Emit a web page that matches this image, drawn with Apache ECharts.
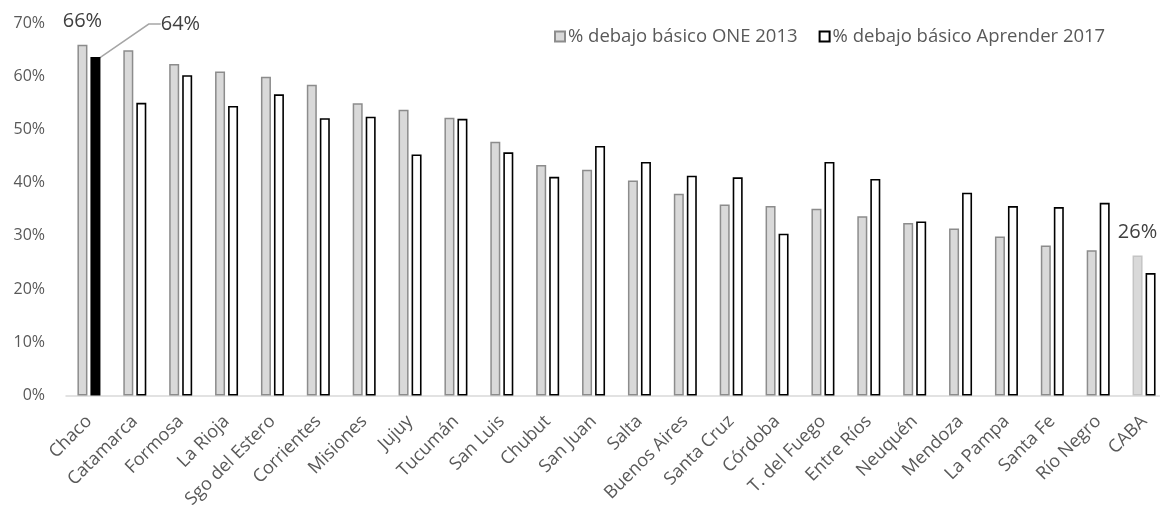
<!DOCTYPE html>
<html>
<head>
<meta charset="utf-8">
<script src="https://cdn.jsdelivr.net/npm/echarts@6/dist/echarts.min.js"></script>
<style>
  html, body { margin: 0; padding: 0; background: #fff; }
  #chart { width: 1160px; height: 506px; }
</style>
</head>
<body>
<div id="chart"></div>
<script>
// Provinces, ordered by 2013 share below basic level
const provinces = ['Chaco', 'Catamarca', 'Formosa', 'La Rioja', 'Sgo del Estero', 'Corrientes',
  'Misiones', 'Jujuy', 'Tucumán', 'San Luis', 'Chubut', 'San Juan', 'Salta', 'Buenos Aires',
  'Santa Cruz', 'Córdoba', 'T. del Fuego', 'Entre Ríos', 'Neuquén', 'Mendoza', 'La Pampa',
  'Santa Fe', 'Río Negro', 'CABA'];

// % below basic, ONE 2013
const one2013 = [65.9, 64.9, 62.3, 60.9, 59.9, 58.4, 54.9, 53.7, 52.2, 47.7, 43.3, 42.4,
  40.4, 37.9, 35.9, 35.6, 35.1, 33.7, 32.4, 31.4, 29.9, 28.2, 27.3, 26.3];

// % below basic, Aprender 2017
const aprender2017 = [63.6, 55.0, 60.2, 54.4, 56.6, 52.1, 52.4, 45.3, 52.0, 45.7, 41.1, 46.9,
  43.9, 41.3, 41.0, 30.4, 43.9, 40.7, 32.7, 38.1, 35.6, 35.4, 36.2, 23.0];

const yTicks = [0, 10, 20, 30, 40, 50, 60, 70];

const seriesNames = ['% debajo básico ONE 2013', '% debajo básico Aprender 2017'];

const FONT = 'Open Sans';
const TEXT = '#595959';
const pct = v => Math.round(v) + '%';

const grayStyle = { color: '#d9d9d9', borderColor: '#8c8c8c', borderWidth: 1.5 };
const whiteStyle = { color: '#ffffff', borderColor: '#000000', borderWidth: 1.6 };

const last = provinces.length - 1;

const oneData = one2013.map((v, i) => {
  const item = { value: v };
  if (i === 0) {
    item.label = { show: true };
  }
  if (i === last) {
    item.itemStyle = { color: '#d9d9d9', borderColor: '#c4c4c4' };
    item.label = { show: true, distance: 13 };
  }
  return item;
});

const aprData = aprender2017.map((v, i) => {
  const item = { value: v };
  if (i === 0) {
    item.itemStyle = { color: '#000000', borderColor: '#000000' };
    item.label = { show: true };
    item.labelLine = { show: true };
  }
  return item;
});

const chart = echarts.init(document.getElementById('chart'), null, { renderer: 'canvas' });

chart.setOption({
  animation: false,
  textStyle: { fontFamily: FONT },
  grid: { left: 66, right: -7, top: 23, bottom: 110.5, containLabel: false, outerBoundsMode: 'none' },
  legend: {
    left: 549, top: 22,
    itemWidth: 10, itemHeight: 10, itemGap: 21,
    icon: 'rect',
    textStyle: { fontFamily: FONT, fontSize: 18.5, color: TEXT, padding: [0, 0, 0, -2] },
    data: seriesNames
  },
  xAxis: {
    type: 'category',
    data: provinces,
    axisLine: { lineStyle: { color: '#d9d9d9', width: 1.5 } },
    axisTick: { show: false },
    axisLabel: { rotate: 45, fontSize: 18, color: TEXT, fontFamily: FONT, margin: 23, interval: 0 }
  },
  yAxis: {
    type: 'value',
    min: yTicks[0], max: yTicks[yTicks.length - 1], interval: 10,
    axisLine: { show: false },
    axisTick: { show: false },
    splitLine: { show: false },
    axisLabel: { formatter: '{value}%', fontSize: 16, color: TEXT, fontFamily: FONT, margin: 21 }
  },
  series: [
    {
      name: seriesNames[0],
      type: 'bar',
      barWidth: 10,
      barGap: '30%',
      itemStyle: grayStyle,
      label: {
        show: false, position: 'top', distance: 14,
        fontSize: 20, color: '#404040', fontFamily: FONT,
        formatter: p => pct(p.value)
      },
      data: oneData
    },
    {
      name: seriesNames[1],
      type: 'bar',
      barWidth: 10,
      itemStyle: whiteStyle,
      label: {
        show: false, position: 'top', distance: 5,
        fontSize: 20, color: '#404040', fontFamily: FONT,
        formatter: p => pct(p.value)
      },
      labelLayout: params => params.dataIndex === 0 ? { dx: 85, dy: -18 } : {},
      labelLine: { show: false, length2: 12, lineStyle: { color: '#a6a6a6', width: 1.5 } },
      data: aprData
    }
  ]
});
</script>
</body>
</html>
